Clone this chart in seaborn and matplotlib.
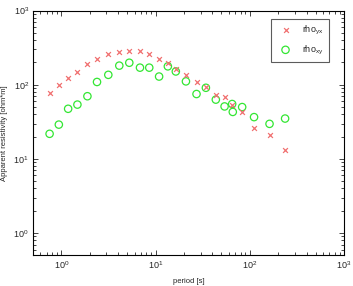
import matplotlib
matplotlib.use("Agg")
import matplotlib.pyplot as plt
import seaborn as sns
import pandas as pd
import numpy as np
from matplotlib.ticker import LogLocator, NullFormatter

sns.set_style("ticks")
plt.rcParams['font.family'] = ['Liberation Sans', 'DejaVu Sans']
plt.rcParams['mathtext.fontset'] = 'custom'
plt.rcParams['mathtext.rm'] = 'Liberation Sans'
plt.rcParams['mathtext.it'] = 'Liberation Sans'

period_yx = [0.75, 0.94, 1.18, 1.48, 1.89, 2.39, 3.15, 4.12, 5.26, 6.83, 8.57, 10.9,
             13.5, 16.4, 21, 27.2, 34.2, 43.6, 54, 65, 83, 111, 162, 237]
rho_yx = [78, 98, 122, 150, 188, 222, 257, 279, 285, 285, 260, 222,
          196, 163, 136, 110, 92, 73, 69, 54, 43, 26, 21, 13.2]

period_xy = [0.75, 0.94, 1.18, 1.48, 1.89, 2.39, 3.15, 4.12, 5.26, 6.83, 8.57, 10.9,
             13.5, 16.4, 21, 27.2, 34.2, 43.6, 54, 65, 66, 83, 111, 162, 237]
rho_xy = [21.8, 29, 47.4, 54, 70, 109, 136, 181, 198, 170, 170, 129,
          177, 151, 111, 75, 91, 63, 51, 55, 43, 50, 36.6, 29.7, 35]

red = '#f07070'
green = '#33e633'

fig = plt.figure(figsize=(3.53, 2.86), dpi=100)
ax = fig.add_axes([0.0935, 0.107, 0.881, 0.856])

sns.scatterplot(x=period_yx, y=rho_yx, marker='x', color=red, s=12, linewidth=0.9,
                ax=ax, label=r'rho$_{\mathregular{yx}}$', zorder=3)
sns.scatterplot(x=period_xy, y=rho_xy, marker='o', facecolors='none', edgecolors=green,
                s=28, linewidth=0.9, ax=ax, label=r'rho$_{\mathregular{xy}}$', zorder=2)

ax.set_xscale('log')
ax.set_yscale('log')
ax.set_xlim(0.5, 1000)
ax.set_ylim(0.5, 1000)

for sp in ax.spines.values():
    sp.set_linewidth(0.8)
    sp.set_color('black')

ax.tick_params(which='both', direction='in', top=True, right=True, labelsize=6.5,
               width=0.6, pad=3)
ax.tick_params(which='major', length=3.5)
ax.tick_params(which='minor', length=2)
ax.xaxis.set_minor_locator(LogLocator(base=10, subs=np.arange(2, 10), numticks=20))
ax.yaxis.set_minor_locator(LogLocator(base=10, subs=np.arange(2, 10), numticks=20))
ax.xaxis.set_minor_formatter(NullFormatter())
ax.yaxis.set_minor_formatter(NullFormatter())

ax.set_xlabel('period [s]', fontsize=5.5, labelpad=5)
ax.set_ylabel('Apparent resistivity [ohm*m]', fontsize=5.5, labelpad=4)

leg = ax.legend(loc='upper right', fontsize=6.5, frameon=True, fancybox=False,
                edgecolor='#333333', borderpad=0.6, handletextpad=0.8,
                labelspacing=0.7, bbox_to_anchor=(0.965, 0.985))
leg.get_frame().set_linewidth(0.8)

fig.savefig('out.png', dpi=100)
